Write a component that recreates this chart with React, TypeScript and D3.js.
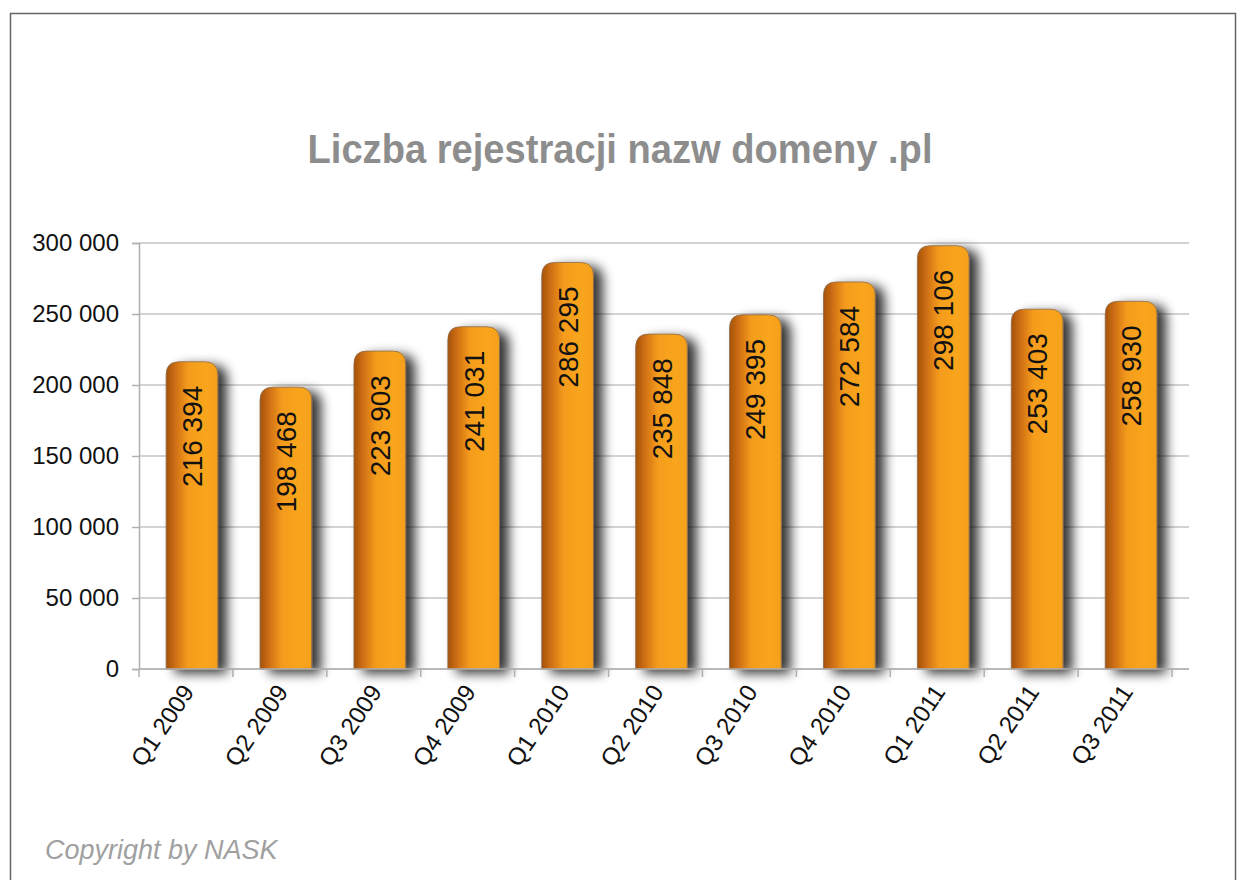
import React, { useEffect, useRef } from "react";
import * as d3 from "d3";

const quarters = ["Q1 2009", "Q2 2009", "Q3 2009", "Q4 2009", "Q1 2010", "Q2 2010", "Q3 2010", "Q4 2010", "Q1 2011", "Q2 2011", "Q3 2011"];
const registrations = [216394, 198468, 223903, 241031, 286295, 235848, 249395, 272584, 298106, 253403, 258930];
const yTicks = [0, 50000, 100000, 150000, 200000, 250000, 300000];

const title = "Liczba rejestracji nazw domeny .pl";
const copyright = "Copyright by NASK";

// "300 000" style, space as thousands separator
const fmt = (v: number) => d3.format(",")(v).replace(/,/g, " ");

function barPath(x: number, y: number, w: number, h: number, r: number) {
  const rr = Math.min(r, h);
  return `M${x},${y + h}V${y + rr}Q${x},${y} ${x + rr},${y}H${x + w - rr}Q${x + w},${y} ${x + w},${y + rr}V${y + h}Z`;
}

export default function App() {
  const ref = useRef<SVGSVGElement>(null);

  useEffect(() => {
    const width = 1239, height = 880;
    const margin = { top: 243, left: 139, right: 67, bottom: 211 };
    const plotW = width - margin.left - margin.right; // to last tick
    const plotH = height - margin.top - margin.bottom;

    const svg = d3.select(ref.current);
    svg.selectAll("*").remove();
    svg.attr("width", width).attr("height", height);

    const defs = svg.append("defs");
    const grad = defs.append("linearGradient").attr("id", "barGrad").attr("x1", "0").attr("x2", "1").attr("y1", "0").attr("y2", "0");
    grad.append("stop").attr("offset", "0%").attr("stop-color", "#a5520c");
    grad.append("stop").attr("offset", "18%").attr("stop-color", "#cf6f14");
    grad.append("stop").attr("offset", "42%").attr("stop-color", "#f49b1d");
    grad.append("stop").attr("offset", "75%").attr("stop-color", "#f9a51f");
    grad.append("stop").attr("offset", "100%").attr("stop-color", "#f4a01e");

    const shadow = defs.append("filter").attr("id", "barShadow").attr("x", "-30%").attr("y", "-10%").attr("width", "190%").attr("height", "130%");
    shadow.append("feGaussianBlur").attr("in", "SourceAlpha").attr("stdDeviation", 6);
    shadow.append("feOffset").attr("dx", 9).attr("dy", 4).attr("result", "off");
    shadow.append("feComponentTransfer").append("feFuncA").attr("type", "linear").attr("slope", 0.8);
    const merge = shadow.append("feMerge");
    merge.append("feMergeNode");
    merge.append("feMergeNode").attr("in", "SourceGraphic");

    // outer frame
    svg.append("rect")
      .attr("x", 10.5).attr("y", 13.5)
      .attr("width", 1225).attr("height", 900)
      .attr("fill", "#fff").attr("stroke", "#666").attr("stroke-width", 1.5);

    svg.append("text")
      .attr("x", 620).attr("y", 163)
      .attr("text-anchor", "middle")
      .attr("font-family", "Liberation Sans, Arial, sans-serif")
      .attr("font-weight", "bold")
      .attr("font-size", 40)
      .attr("textLength", 625).attr("lengthAdjust", "spacingAndGlyphs")
      .attr("fill", "#8d8d8d")
      .text(title);

    const g = svg.append("g").attr("transform", `translate(${margin.left},${margin.top})`);

    const x = d3.scaleBand().domain(quarters).range([0, plotW]).paddingInner(0.45).paddingOuter(0.225);
    const y = d3.scaleLinear().domain([0, 300000]).range([plotH, 0]);

    // gridlines
    g.append("g").selectAll("line").data(yTicks).join("line")
      .attr("x1", 0).attr("x2", plotW + 17)
      .attr("y1", d => y(d)).attr("y2", d => y(d))
      .attr("stroke", "#c4c4c4").attr("stroke-width", 1.5);

    // y axis
    const yAxis = g.append("g").call(d3.axisLeft(y).tickValues(yTicks).tickFormat(d => fmt(+d)).tickSize(7).tickPadding(13));
    yAxis.select(".domain").attr("stroke", "#b0b0b0").attr("stroke-width", 1.5);
    yAxis.selectAll(".tick line").attr("stroke", "#b0b0b0").attr("stroke-width", 1.5);
    yAxis.selectAll(".tick text")
      .attr("font-family", "Liberation Sans, Arial, sans-serif")
      .attr("font-size", 24).attr("fill", "#111");

    // bars
    g.append("g").selectAll("path").data(registrations).join("path")
      .attr("d", (d, i) => barPath(x(quarters[i])! + 6, y(d), x.bandwidth(), plotH - y(d), 13))
      .attr("fill", "url(#barGrad)")
      .attr("stroke", "#8a6a4a").attr("stroke-width", 0.8)
      .attr("filter", "url(#barShadow)");

    // value labels
    g.append("g").selectAll("text").data(registrations).join("text")
      .attr("transform", (d, i) => `translate(${x(quarters[i])! + 6 + x.bandwidth() / 2 + 10},${y(d) + 24}) rotate(-90)`)
      .attr("text-anchor", "end")
      .attr("font-family", "Liberation Sans, Arial, sans-serif")
      .attr("font-size", 28).attr("fill", "#111")
      .text(d => fmt(d));

    // x axis
    const step = x.step();
    const xAxis = g.append("g").attr("transform", `translate(0,${plotH})`);
    xAxis.append("line").attr("x1", 0).attr("x2", plotW + 17).attr("stroke", "#b0b0b0").attr("stroke-width", 1.5);
    xAxis.selectAll("line.tk").data(d3.range(quarters.length + 1)).join("line")
      .attr("class", "tk")
      .attr("x1", i => i * step).attr("x2", i => i * step)
      .attr("y1", 0).attr("y2", 8)
      .attr("stroke", "#b0b0b0").attr("stroke-width", 1.5);
    xAxis.selectAll("text").data(quarters).join("text")
      .attr("transform", d => `translate(${x(d)! + x.bandwidth() / 2 + 9},${23}) rotate(-56)`)
      .attr("text-anchor", "end")
      .attr("font-family", "Liberation Sans, Arial, sans-serif")
      .attr("font-size", 24).attr("fill", "#111")
      .text(d => d);

    svg.append("text")
      .attr("x", 45).attr("y", 859)
      .attr("font-family", "Liberation Sans, Arial, sans-serif")
      .attr("font-style", "italic")
      .attr("font-size", 27).attr("fill", "#a0a0a0")
      .text(copyright);
  }, []);

  return <svg ref={ref} style={{ position: "absolute", left: 0, top: 0 }} />;
}
